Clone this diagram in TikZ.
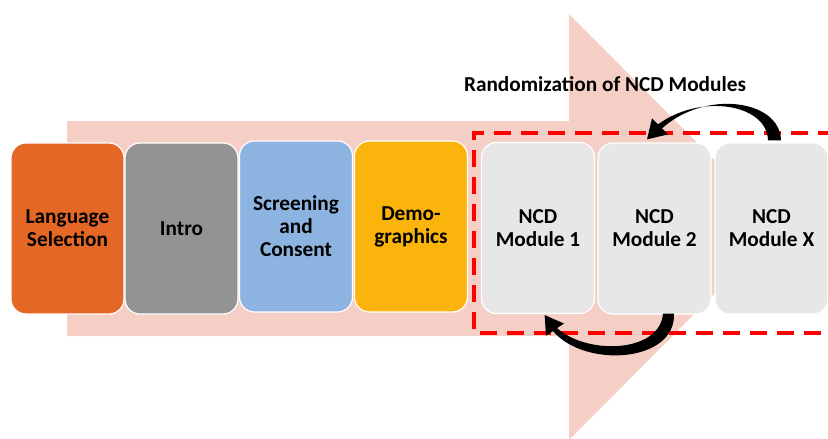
\documentclass[tikz,border=0pt]{standalone}
\usepackage{fontspec}
\setmainfont{Carlito}
\usetikzlibrary{arrows.meta}
\definecolor{bigarrow}{HTML}{F5CFC5}
\definecolor{cLang}{HTML}{E46726}
\definecolor{cIntro}{HTML}{939393}
\definecolor{cScreen}{HTML}{8DB4E0}
\definecolor{cDemo}{HTML}{FBB40C}
\definecolor{cNCD}{HTML}{E7E7E7}
\definecolor{cRed}{HTML}{FF0000}
\tikzset{
  stepbox/.style={draw=white, line width=1.2pt, rounded corners=15pt,
    minimum width=113pt, minimum height=171pt, inner sep=0pt, align=center,
    font=\fontsize{21.3}{23}\selectfont\bfseries, text=black},
  loopar/.style={fill=black},
  redbox/.style={draw=cRed, line width=4pt, dash pattern=on 17pt off 10pt}
}
\begin{document}
\begin{tikzpicture}[x=1pt,y=-1pt]
\useasboundingbox (0,0) rectangle (828,439);
\clip (0,0) rectangle (828,439);
\fill[bigarrow] (67,121) -- (569,121) -- (569,14) -- (781,227) -- (569,440) -- (569,336) -- (67,336) -- cycle;
\draw[redbox] (835,133) -- (474,133) -- (474,333) -- (835,333);
\node[stepbox, fill=cLang]   (lang)   at (67.5,228.5) {Language\\Selection};
\node[stepbox, fill=cIntro]  (intro)  at (181.5,228.5) {Intro};
\node[stepbox, fill=cScreen] (screen) at (296,226.5) {Screening\\and\\Consent};
\node[stepbox, fill=cDemo]   (demo)   at (411,226.5) {Demo-\\graphics};
\node[stepbox, fill=cNCD]    (m1)     at (538,228) {NCD\\Module 1};
\node[stepbox, fill=cNCD]    (m2)     at (654.5,228.5) {NCD\\Module 2};
\node[stepbox, fill=cNCD]    (mx)     at (771.5,228.5) {NCD\\Module X};
\node[font=\fontsize{21.3}{23}\selectfont\bfseries] (title) at (605,84) {Randomization of NCD Modules};
% top loop arrow: from Module X to Module 2
\begin{scope}[shift={(m2.north)}]
\fill[loopar] (126.5,-2) .. controls (125.5,-43) and (50.5,-53) .. (7.5,-14)
  -- (13.5,-8) -- (-7.5,-3) -- (-2.5,-24) -- (3.5,-18)
  .. controls (45.5,-49) and (112.5,-39) .. (113.5,-2) -- cycle;
\end{scope}
% bottom loop arrow: from Module 2 to Module 1
\begin{scope}[shift={(m2.south)}]
\fill[loopar] (19.5,-1) .. controls (21.5,48) and (-69.5,54) .. (-101.5,16.5)
  -- (-108.5,21) -- (-109.9,0.4) -- (-90.5,9) -- (-97.5,13.5)
  .. controls (-66.5,41) and (5.5,38) .. (8.5,-1) -- cycle;
\end{scope}
\end{tikzpicture}
\end{document}
